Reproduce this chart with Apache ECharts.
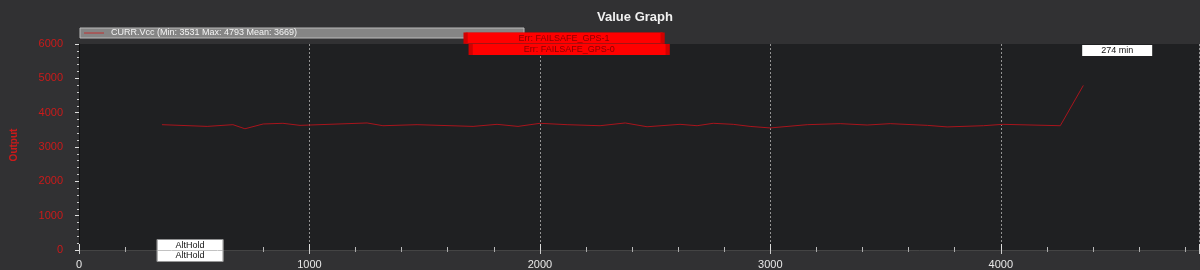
<!DOCTYPE html>
<html><head><meta charset="utf-8">
<script src="https://cdn.jsdelivr.net/npm/echarts@6/dist/echarts.min.js"></script>
<style>html,body{margin:0;padding:0;background:#313133;}#c{width:1200px;height:270px;}</style>
</head><body><div id="c"></div>
<script>
var seriesName = 'CURR.Vcc';
var legendText = 'CURR.Vcc (Min: 3531 Max: 4793 Mean: 3669)';
var timeX = [360,556,668,720,799,885,959,1250,1319,1467,1710,1814,1905,2001,2118,2261,2370,2465,2608,2682,2752,2839,2912,2999,3160,3303,3420,3520,3681,3767,3924,4010,4258,4358];
var vccValues = [3650,3600,3650,3531,3670,3690,3630,3700,3620,3650,3600,3660,3600,3690,3650,3620,3700,3590,3660,3620,3690,3660,3600,3555,3650,3680,3640,3680,3630,3585,3620,3660,3620,4793];
var eventLabels = ['Err: FAILSAFE_GPS-1','Err: FAILSAFE_GPS-0'];
var eventX = [2105,2127];
var eventY = [6174,5840];
var modeLabels = ['AltHold','AltHold'];
var modeX = [482,482];
var modeY = [145,-174];
var timeLabel = '274 min';
var timeLabelX = 4505, timeLabelY = 5812;

var chart = echarts.init(document.getElementById('c'));
var pts = timeX.map(function(x,i){return [x, vccValues[i]];});
var marks = [];
eventLabels.forEach(function(t,i){
  marks.push({value:[eventX[i],eventY[i]], symbol:'rect', symbolSize:[197,11],
    itemStyle:{color:'#ff0000',borderColor:'#d00000',borderWidth:1,opacity:1},
    label:{show:true,position:'inside',formatter:t,color:'#8a0000',fontSize:9,fontFamily:'Liberation Sans'}});
});
modeLabels.forEach(function(t,i){
  marks.push({value:[modeX[i],modeY[i]], symbol:'rect', symbolSize:[66,11],
    itemStyle:{color:'#ffffff',borderColor:'#999',borderWidth:0.5,opacity:1},
    label:{show:true,position:'inside',formatter:t,color:'#111',fontSize:9,fontFamily:'Liberation Sans'}});
});
marks.push({value:[timeLabelX,timeLabelY], symbol:'rect', symbolSize:[70,11],
  itemStyle:{color:'#ffffff',opacity:1},
  label:{show:true,position:'inside',formatter:timeLabel,color:'#111',fontSize:9,fontFamily:'Liberation Sans'}});

chart.setOption({
  backgroundColor:'#313133',
  animation:false,
  title:{text:'Value Graph',left:630,top:6,textAlign:'center',
    textStyle:{color:'#f0f0f0',fontSize:13,fontWeight:'bold',fontFamily:'Liberation Sans'}},
  legend:{show:false},
  graphic:[
    {type:'rect',shape:{x:80,y:28,width:444,height:10},style:{fill:'#858585',stroke:'#bbbbbb',lineWidth:1},z:2},
    {type:'line',shape:{x1:84,y1:33,x2:104,y2:33},style:{stroke:'#c03030',lineWidth:1},z:3},
    {type:'text',x:111,y:28,style:{text:legendText,fill:'#f4f4f4',font:'9px Liberation Sans',textVerticalAlign:'top'},z:3},
    {type:'text',x:14,y:145,rotation:Math.PI/2,style:{text:'Output',fill:'#cc1a1a',font:'bold 10px Liberation Sans',textAlign:'center',textVerticalAlign:'middle'},z:3}
  ],
  grid:{left:79,top:44,right:1,height:207,backgroundColor:'#1f2022',show:true,borderWidth:0},
  xAxis:[{type:'value',min:0,max:4860,interval:1000,position:'bottom',
    axisLine:{show:true,onZero:false,lineStyle:{color:'#111',width:1}},
    axisTick:{show:true,inside:true,length:6,lineStyle:{color:'#ddd'}},
    minorTick:{show:true,splitNumber:5,length:3,lineStyle:{color:'#bbb'}},
    axisLabel:{color:'#e8e8e8',fontSize:11,fontFamily:'Liberation Sans',margin:9,showMaxLabel:false,
      formatter:function(v){return String(v);}},
    splitLine:{show:true,lineStyle:{color:'#b0b0b0',type:[2,2],width:1,opacity:0.8}}},
   {type:'value',min:0,max:4860,interval:1000,position:'top',
    axisLine:{show:true,lineStyle:{color:'#444',width:1}},
    axisTick:{show:true,inside:true,length:4,lineStyle:{color:'#ccc'}},
    minorTick:{show:true,splitNumber:5,length:2,lineStyle:{color:'#aaa'}},
    axisLabel:{show:false},splitLine:{show:false}}],
  yAxis:{type:'value',min:0,max:6000,interval:1000,
    axisLine:{show:true,lineStyle:{color:'#111'}},
    axisTick:{show:true,length:4,lineStyle:{color:'#ddd'}},
    minorTick:{show:true,splitNumber:5,length:2,lineStyle:{color:'#ccc'}},
    axisLabel:{color:'#cc1a1a',fontSize:11,fontFamily:'Liberation Sans',margin:16,
      formatter:function(v){return String(v);}},
    splitLine:{show:false}},
  series:[{name:seriesName,type:'line',data:pts,showSymbol:false,symbol:'none',
    lineStyle:{color:'#a8141c',width:1},clip:false},
    {name:'events',type:'scatter',data:marks,clip:false,z:20,itemStyle:{opacity:1},
     emphasis:{disabled:true}}]
});
</script></body></html>
